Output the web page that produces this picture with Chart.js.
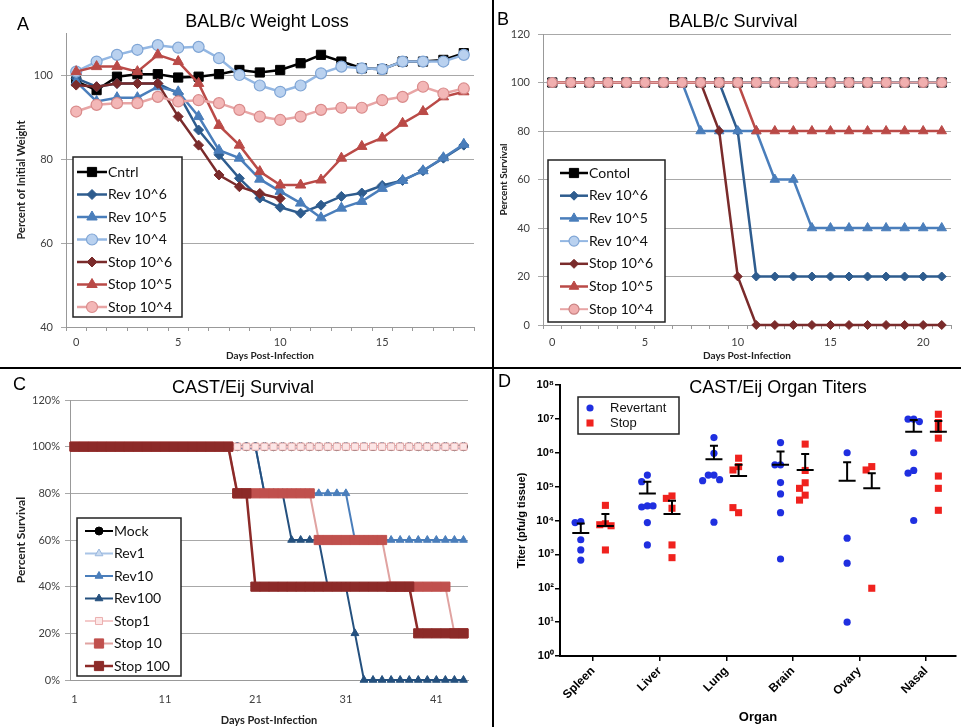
<!DOCTYPE html>
<html><head><meta charset="utf-8">
<script src="https://cdn.jsdelivr.net/npm/chart.js@4/dist/chart.umd.min.js"></script>
<style>
html,body{margin:0;padding:0;background:#fff;}
body{width:961px;height:727px;position:relative;overflow:hidden;}
canvas{position:absolute;}
.sep{position:absolute;background:#000;}
</style></head><body>
<canvas id="cA" width="492" height="367" style="left:0;top:0"></canvas>
<canvas id="cB" width="467" height="367" style="left:494px;top:0"></canvas>
<canvas id="cC" width="492" height="358" style="left:0;top:369px"></canvas>
<canvas id="cD" width="467" height="358" style="left:494px;top:369px"></canvas>
<div class="sep" style="left:492px;top:0;width:2px;height:727px"></div>
<div class="sep" style="left:0;top:367px;width:961px;height:2px"></div>
<script>
// ---------------- DATA ----------------
// Panel A: BALB/c weight loss (percent of initial weight), days 0..19
const daysA = [0,1,2,3,4,5,6,7,8,9,10,11,12,13,14,15,16,17,18,19];
const wtCntrl = [98.5,96.4,99.6,100.2,100.2,99.4,99.6,100.2,101.2,100.6,101.2,102.8,104.8,103.2,101.6,101.4,103.2,103.2,103.6,105.2];
const wtRev6  = [99.2,97.2,98,98,98,95.6,86.9,81,75.4,70.7,68.5,67.1,69,71.1,71.9,73.7,74.9,77.2,80.2,83.3];
const wtRev5  = [98.4,93.7,94.6,94.6,97.2,96,90.1,82.1,80.2,75.2,72.3,69.5,66,68.3,69.9,73,74.9,77.2,80.3,83.5];
const wtRev4  = [100.8,103.2,104.8,106,107.1,106.5,106.7,104,100,97.5,96,97.5,100.4,102,101.6,101.4,103.2,103.2,103.2,104.8];
const wtStop6 = [97.6,97.2,98,98,98,90.1,83.3,76.2,73.4,71.8,70.6];
const wtStop5 = [100.8,102,102,100.8,104.8,103.2,98,88,83.3,77,73.8,73.8,75,80.2,83,85,88.5,91.3,94.8,96];
const wtStop4 = [91.3,92.9,93.3,93.3,94.8,93.7,94,93.3,91.7,90.1,89.3,90.1,91.7,92.2,92.2,94,94.8,97.2,95.6,96.8];
const yTicksA = [40,60,80,100];

// Panel B: BALB/c survival (percent), days 0..21
const daysB = [0,1,2,3,4,5,6,7,8,9,10,11,12,13,14,15,16,17,18,19,20,21];
const svContol = [100,100,100,100,100,100,100,100,100,100,100,100,100,100,100,100,100,100,100,100,100,100];
const svRev6   = [100,100,100,100,100,100,100,100,100,100,80,20,20,20,20,20,20,20,20,20,20,20];
const svRev5   = [100,100,100,100,100,100,100,100,80,80,80,80,60,60,40,40,40,40,40,40,40,40];
const svRev4   = [100,100,100,100,100,100,100,100,100,100,100,100,100,100,100,100,100,100,100,100,100,100];
const svStop6  = [100,100,100,100,100,100,100,100,100,80,20,0,0,0,0,0,0,0,0,0,0,0];
const svStop5  = [100,100,100,100,100,100,100,100,100,100,100,80,80,80,80,80,80,80,80,80,80,80];
const svStop4  = [100,100,100,100,100,100,100,100,100,100,100,100,100,100,100,100,100,100,100,100,100,100];

// Panel C: CAST/Eij survival (fraction), days 1..44
const daysC = [1,2,3,4,5,6,7,8,9,10,11,12,13,14,15,16,17,18,19,20,21,22,23,24,25,26,27,28,29,30,31,32,33,34,35,36,37,38,39,40,41,42,43,44];
const scMock   = [1,1,1,1,1,1,1,1,1,1, 1,1,1,1,1,1,1,1,1,1, 1,1,1,1,1,1,1,1,1,1, 1,1,1,1,1,1,1,1,1,1, 1,1,1,1];
const scRev1   = [1,1,1,1,1,1,1,1,1,1, 1,1,1,1,1,1,1,1,1,1, 1,1,1,1,1,1,1,1,1,1, 1,1,1,1,1,1,1,1,1,1, 1,1,1,1];
const scRev10  = [1,1,1,1,1,1,1,1,1,1, 1,1,1,1,1,1,1,1,1,1, 1,0.8,0.8,0.8,0.8,0.8,0.8,0.8,0.8,0.8, 0.8,0.6,0.6,0.6,0.6,0.6,0.6,0.6,0.6,0.6, 0.6,0.6,0.6,0.6];
const scRev100 = [1,1,1,1,1,1,1,1,1,1, 1,1,1,1,1,1,1,1,1,1, 1,0.8,0.8,0.8,0.6,0.6,0.6,0.6,0.4,0.4, 0.4,0.2,0,0,0,0,0,0,0,0, 0,0,0,0];
const scStop1  = [1,1,1,1,1,1,1,1,1,1, 1,1,1,1,1,1,1,1,1,1, 1,1,1,1,1,1,1,1,1,1, 1,1,1,1,1,1,1,1,1,1, 1,1,1,1];
const scStop10 = [1,1,1,1,1,1,1,1,1,1, 1,1,1,1,1,1,1,1,0.8,0.8, 0.8,0.8,0.8,0.8,0.8,0.8,0.8,0.6,0.6,0.6, 0.6,0.6,0.6,0.6,0.6,0.4,0.4,0.4,0.4,0.4, 0.4,0.4,0.2,0.2];
const scStop100= [1,1,1,1,1,1,1,1,1,1, 1,1,1,1,1,1,1,1,0.8,0.8, 0.4,0.4,0.4,0.4,0.4,0.4,0.4,0.4,0.4,0.4, 0.4,0.4,0.4,0.4,0.4,0.4,0.4,0.4,0.2,0.2, 0.2,0.2,0.2,0.2];

// Panel D: CAST/Eij organ titers (pfu/g tissue)
const organs = ['Spleen','Liver','Lung','Brain','Ovary','Nasal'];
const revSpleen = [9300,8700,2700,1350,680];
const revLiver  = [220000,140000,27000,25000,27000,8700,1900];
const revLung   = [2800000,960000,220000,220000,160000,150000,8900];
const revBrain  = [2000000,440000,440000,132000,61000,17000,730];
const revOvary  = [1000000,3000,550,10];
const revNasal  = [9800000,9800000,8300000,1000000,300000,250000,10000];
const stopSpleen = [28000,8000,7500,7000,1350];
const stopLiver  = [53000,45000,23000,1900,800];
const stopLung   = [690000,390000,310000,17000,24000];
const stopBrain  = [1800000,300000,130000,89000,56000,40000];
const stopOvary  = [390000,310000,100];
const stopNasal  = [13700000,7800000,4900000,2700000,205000,89000,20000];
const revMean  = [4300,63000,640000,440000,148000,4200000];
const revErr   = [8200,140000,1600000,1080000,520000,9300000];
const stopMean = [6900,15500,205000,310000,89000,4200000];
const stopErr  = [15500,38000,440000,920000,250000,8700000];
const yTicksD = [1,10,100,1000,10000,100000,1000000,10000000,100000000];

// ---------------- HELPERS ----------------
const FUI = 'Lato, "Open Sans", sans-serif';
const FAR = '"Liberation Sans", Arial, sans-serif';
Chart.defaults.font.family = FUI;
Chart.defaults.color = '#404040';

function drawMarker(ctx, style, x, y, r, fill, edge, ew){
  ctx.save(); ctx.beginPath();
  if(style==='circle'){ ctx.arc(x,y,r,0,Math.PI*2); }
  else if(style==='rect'){ const s=r*Math.SQRT1_2; ctx.rect(x-s,y-s,2*s,2*s); }
  else if(style==='rectRot'){ ctx.moveTo(x,y-r); ctx.lineTo(x+r,y); ctx.lineTo(x,y+r); ctx.lineTo(x-r,y); ctx.closePath(); }
  else if(style==='triangle'){ let a=0; ctx.moveTo(x+Math.sin(a)*r,y-Math.cos(a)*r); a+=2*Math.PI/3; ctx.lineTo(x+Math.sin(a)*r,y-Math.cos(a)*r); a+=2*Math.PI/3; ctx.lineTo(x+Math.sin(a)*r,y-Math.cos(a)*r); ctx.closePath(); }
  ctx.fillStyle=fill; ctx.fill();
  if(ew>0){ ctx.lineWidth=ew; ctx.strokeStyle=edge; ctx.stroke(); }
  ctx.restore();
}
function textPlugin(items){
  return {id:'panelText', afterDraw(chart){
    const ctx=chart.ctx; ctx.save();
    items.forEach(it=>{ ctx.font=it.font; ctx.fillStyle=it.color||'#000'; ctx.textAlign=it.align||'left'; ctx.textBaseline='middle'; ctx.fillText(it.t,it.x,it.y); });
    ctx.restore();
  }};
}
function legendPlugin(cfg){
  return {id:'boxLegend', afterDraw(chart){
    const ctx=chart.ctx; const b=cfg.box;
    ctx.save();
    ctx.fillStyle='#fff'; ctx.fillRect(b[0],b[1],b[2]-b[0],b[3]-b[1]);
    ctx.lineWidth=cfg.boxLW; ctx.strokeStyle=cfg.boxColor; ctx.strokeRect(b[0],b[1],b[2]-b[0],b[3]-b[1]);
    chart.data.datasets.forEach((ds,i)=>{
      const y=cfg.firstY+i*cfg.step;
      if(cfg.lineX){ ctx.strokeStyle=ds.borderColor; ctx.lineWidth=ds.borderWidth; ctx.beginPath(); ctx.moveTo(cfg.lineX[0],y); ctx.lineTo(cfg.lineX[1],y); ctx.stroke(); }
      drawMarker(ctx, ds.pointStyle, cfg.markX, y, ds.pointRadius, ds.pointBackgroundColor, ds.pointBorderColor, ds.pointBorderWidth);
      ctx.fillStyle='#111'; ctx.font=cfg.font; ctx.textAlign='left'; ctx.textBaseline='middle'; ctx.fillText(ds.label,cfg.textX,y);
    });
    ctx.restore();
  }};
}
function lineDS(label, data, st, order){
  return {label, data, borderColor:st.line, borderWidth:st.lw, pointStyle:st.shape, pointRadius:st.r,
    pointBackgroundColor:st.fill, pointBorderColor:st.edge, pointBorderWidth:st.ew, tension:0, fill:false, clip:false, order};
}
const base = {responsive:false, animation:false, devicePixelRatio:1, events:[]};
const GRID = '#A8A8A8';

// ---------------- PANEL A ----------------
const stA = {
  cntrl:{line:'#000000',lw:2.5,shape:'rect',r:6.5,fill:'#000000',edge:'#000000',ew:1},
  rev6:{line:'#2E5C8E',lw:2.5,shape:'rectRot',r:5,fill:'#2E5C8E',edge:'#2E5C8E',ew:1},
  rev5:{line:'#4A7EBB',lw:2.5,shape:'triangle',r:6,fill:'#4A7EBB',edge:'#4A7EBB',ew:1},
  rev4:{line:'#93B7E3',lw:2.5,shape:'circle',r:5.5,fill:'#B9D1EF',edge:'#7FA5D5',ew:1.2},
  stop6:{line:'#7A2B2B',lw:2.5,shape:'rectRot',r:5,fill:'#7A2B2B',edge:'#7A2B2B',ew:1},
  stop5:{line:'#BA4A47',lw:2.5,shape:'triangle',r:6,fill:'#BA4A47',edge:'#BA4A47',ew:1},
  stop4:{line:'#E8A5A5',lw:2.5,shape:'circle',r:5.5,fill:'#F3B7B7',edge:'#D98B8B',ew:1.2}
};
new Chart(document.getElementById('cA'), {
  type:'line',
  data:{labels:daysA, datasets:[
    lineDS('Cntrl',wtCntrl,stA.cntrl,7), lineDS('Rev 10^6',wtRev6,stA.rev6,6), lineDS('Rev 10^5',wtRev5,stA.rev5,5),
    lineDS('Rev 10^4',wtRev4,stA.rev4,4), lineDS('Stop 10^6',wtStop6,stA.stop6,3), lineDS('Stop 10^5',wtStop5,stA.stop5,2),
    lineDS('Stop 10^4',wtStop4,stA.stop4,1)]},
  options:{...base,
    layout:{padding:{top:33,right:18,bottom:0,left:0}},
    plugins:{legend:{display:false},tooltip:{enabled:false}},
    scales:{
      x:{type:'category',offset:true,
        grid:{offset:true,drawOnChartArea:false,drawTicks:true,tickLength:4,color:'#999'},
        border:{color:'#999'},
        ticks:{autoSkip:false,maxRotation:0,padding:5,font:{size:11},callback:function(v,i){return i%5===0?this.getLabelForValue(v):'';}},
        title:{display:true,text:'Days Post-Infection',font:{size:10,weight:'bold'},color:'#222',padding:{top:0,bottom:5}},
        afterFit:s=>{s.height=40;}},
      y:{min:40,max:110,
        afterBuildTicks:s=>{s.ticks=yTicksA.map(v=>({value:v}));},
        grid:{color:GRID,tickLength:5},border:{color:'#999'},
        ticks:{padding:8,font:{size:11}},
        title:{display:true,text:'Percent of Initial Weight',font:{size:11,weight:'bold'},color:'#222',padding:{top:15,bottom:0}},
        afterFit:s=>{s.width=66;}}
    }},
  plugins:[legendPlugin({box:[73,157,182,317],firstY:172,step:22.5,lineX:[77,107],markX:92,textX:108,font:'14px '+FUI,boxLW:1.5,boxColor:'#222'}),
    textPlugin([{t:'A',x:17,y:25,font:'18px '+FAR},{t:'BALB/c Weight Loss',x:267,y:22,font:'18px '+FAR,align:'center'}])]
});

// ---------------- PANEL B ----------------
const stB = {
  contol:{line:'#000000',lw:2.5,shape:'rect',r:6.5,fill:'#000000',edge:'#000000',ew:1},
  rev6:{line:'#2E5C8E',lw:2.5,shape:'rectRot',r:4.5,fill:'#2E5C8E',edge:'#2E5C8E',ew:1},
  rev5:{line:'#4A7EBB',lw:2.5,shape:'triangle',r:5.5,fill:'#4A7EBB',edge:'#4A7EBB',ew:1},
  rev4:{line:'#93B7E3',lw:2,shape:'circle',r:5,fill:'#B9D1EF',edge:'#7FA5D5',ew:1.2},
  stop6:{line:'#7A2B2B',lw:2.5,shape:'rectRot',r:4.5,fill:'#7A2B2B',edge:'#7A2B2B',ew:1},
  stop5:{line:'#BA4A47',lw:2.5,shape:'triangle',r:5.5,fill:'#BA4A47',edge:'#BA4A47',ew:1},
  stop4:{line:'#E8A5A5',lw:2,shape:'circle',r:5,fill:'#F1AFAF',edge:'#C98282',ew:1.2}
};
new Chart(document.getElementById('cB'), {
  type:'line',
  data:{labels:daysB, datasets:[
    lineDS('Contol',svContol,stB.contol,7), lineDS('Rev 10^6',svRev6,stB.rev6,6), lineDS('Rev 10^5',svRev5,stB.rev5,5),
    lineDS('Rev 10^4',svRev4,stB.rev4,4), lineDS('Stop 10^6',svStop6,stB.stop6,3), lineDS('Stop 10^5',svStop5,stB.stop5,2),
    lineDS('Stop 10^4',svStop4,stB.stop4,1)]},
  options:{...base,
    layout:{padding:{top:34,right:10,bottom:0,left:0}},
    plugins:{legend:{display:false},tooltip:{enabled:false}},
    scales:{
      x:{type:'category',offset:true,
        grid:{offset:true,drawOnChartArea:false,drawTicks:true,tickLength:4,color:'#999'},
        border:{color:'#999'},
        ticks:{autoSkip:false,maxRotation:0,padding:7,font:{size:11},callback:function(v,i){return i%5===0?this.getLabelForValue(v):'';}},
        title:{display:true,text:'Days Post-Infection',font:{size:10,weight:'bold'},color:'#222',padding:{top:0,bottom:5}},
        afterFit:s=>{s.height=42;}},
      y:{min:0,max:120,ticks:{stepSize:20,padding:8,font:{size:11}},
        grid:{color:GRID,tickLength:5},border:{color:'#999'},
        title:{display:true,text:'Percent Survival',font:{size:10,weight:'bold'},color:'#222',padding:{top:4,bottom:0}},
        afterFit:s=>{s.width=49;}}
    }},
  plugins:[legendPlugin({box:[54,160,171,322],firstY:173,step:22.7,lineX:[66,94],markX:80,textX:95,font:'14px '+FUI,boxLW:1.5,boxColor:'#222'}),
    textPlugin([{t:'B',x:3,y:20,font:'18px '+FAR},{t:'BALB/c Survival',x:239,y:22,font:'18px '+FAR,align:'center'}])]
});

// ---------------- PANEL C ----------------
const stC = {
  mock:{line:'#000000',lw:2,shape:'circle',r:4,fill:'#000000',edge:'#000000',ew:1},
  rev1:{line:'#A9C4E6',lw:2,shape:'triangle',r:4.5,fill:'#C8DAF0',edge:'#9BB8DE',ew:1},
  rev10:{line:'#4A7EBB',lw:2,shape:'triangle',r:4.5,fill:'#4A7EBB',edge:'#4A7EBB',ew:1},
  rev100:{line:'#24507E',lw:2,shape:'triangle',r:4.5,fill:'#24507E',edge:'#24507E',ew:1},
  stop1:{line:'#F4CACA',lw:2,shape:'rect',r:5,fill:'#FCE6E6',edge:'#EBAEAE',ew:1},
  stop10:{line:'#E0A3A1',lw:2,shape:'rect',r:6.5,fill:'#C0504D',edge:'#C0504D',ew:1},
  stop100:{line:'#8C2A28',lw:2.5,shape:'rect',r:6.5,fill:'#8C2A28',edge:'#8C2A28',ew:1}
};
new Chart(document.getElementById('cC'), {
  type:'line',
  data:{labels:daysC, datasets:[
    lineDS('Mock',scMock,stC.mock,7), lineDS('Rev1',scRev1,stC.rev1,6), lineDS('Rev10',scRev10,stC.rev10,5),
    lineDS('Rev100',scRev100,stC.rev100,4), lineDS('Stop1',scStop1,stC.stop1,3), lineDS('Stop 10',scStop10,stC.stop10,2),
    lineDS('Stop 100',scStop100,stC.stop100,1)]},
  options:{...base,
    layout:{padding:{top:31,right:24,bottom:0,left:0}},
    plugins:{legend:{display:false},tooltip:{enabled:false}},
    scales:{
      x:{type:'category',offset:true,
        grid:{offset:true,drawOnChartArea:false,drawTicks:false,color:'#999'},
        border:{color:'#999'},
        ticks:{autoSkip:false,maxRotation:0,padding:13,font:{size:11},callback:function(v,i){return i%10===0?this.getLabelForValue(v):'';}},
        title:{display:true,text:'Days Post-Infection',font:{size:11,weight:'bold'},color:'#222',padding:{top:0,bottom:0}},
        afterFit:s=>{s.height=47;}},
      y:{min:0,max:1.2,ticks:{stepSize:0.2,padding:5,font:{size:11},callback:v=>Math.round(v*100)+'%'},
        grid:{color:GRID,tickLength:5},border:{color:'#999'},
        title:{display:true,text:'Percent Survival',font:{size:12,weight:'bold'},color:'#222',padding:{top:14,bottom:0}},
        afterFit:s=>{s.width=70;}}
    }},
  plugins:[legendPlugin({box:[77,149,181,307],firstY:162,step:22.5,lineX:[85,113],markX:99,textX:114,font:'14px '+FUI,boxLW:1.5,boxColor:'#222'}),
    textPlugin([{t:'C',x:13,y:16,font:'18px '+FAR},{t:'CAST/Eij Survival',x:243,y:19,font:'18px '+FAR,align:'center'}])]
});

// ---------------- PANEL D ----------------
const revGroups = [revSpleen,revLiver,revLung,revBrain,revOvary,revNasal];
const stopGroups = [stopSpleen,stopLiver,stopLung,stopBrain,stopOvary,stopNasal];
const REV_OFF = -0.185, STOP_OFF = 0.185;
function swarm(groups, off){
  const pts=[];
  groups.forEach((vals,gi)=>{
    const placed=[];
    vals.forEach(v=>{
      const lv=Math.log10(v);
      const k=placed.filter(p=>Math.abs(p-lv)<0.2).length;
      placed.push(lv);
      const d = k===0?0:(k%2?-1:1)*Math.ceil(k/2)*0.085;
      pts.push({x:gi+1+off+d, y:v});
    });
  });
  return pts;
}
const sup = ['\u2070','\u00B9','\u00B2','\u00B3','\u2074','\u2075','\u2076','\u2077','\u2078'];
const meanPlugin = {id:'meanBars', afterDatasetsDraw(chart){
  const ctx=chart.ctx, x=chart.scales.x, y=chart.scales.y;
  ctx.save(); ctx.strokeStyle='#000'; ctx.lineWidth=2;
  [[revMean,revErr,REV_OFF],[stopMean,stopErr,STOP_OFF]].forEach(g=>{
    g[0].forEach((m,i)=>{
      const px=x.getPixelForValue(i+1+g[2]), pm=y.getPixelForValue(m), pe=y.getPixelForValue(g[1][i]);
      ctx.beginPath();
      ctx.moveTo(px-8.5,pm); ctx.lineTo(px+8.5,pm);
      ctx.moveTo(px,pm); ctx.lineTo(px,pe);
      ctx.moveTo(px-4,pe); ctx.lineTo(px+4,pe);
      ctx.stroke();
    });
  });
  ctx.restore();
}};
new Chart(document.getElementById('cD'), {
  type:'scatter',
  data:{datasets:[
    {label:'Revertant',data:swarm(revGroups,REV_OFF),pointStyle:'circle',pointRadius:3.6,pointBackgroundColor:'#1F2FE0',pointBorderColor:'#1F2FE0',pointBorderWidth:0,showLine:false,clip:false},
    {label:'Stop',data:swarm(stopGroups,STOP_OFF),pointStyle:'rect',pointRadius:5,pointBackgroundColor:'#F0221E',pointBorderColor:'#F0221E',pointBorderWidth:0,showLine:false,clip:false}
  ]},
  options:{...base,
    layout:{padding:{top:16,right:0,bottom:0,left:0}},
    plugins:{legend:{display:false},tooltip:{enabled:false}},
    scales:{
      x:{type:'linear',min:0.503,max:6.45,
        afterBuildTicks:s=>{s.ticks=[1,2,3,4,5,6].map(v=>({value:v}));},
        grid:{drawOnChartArea:false,drawTicks:true,tickLength:5,color:'#000',lineWidth:1.5},
        border:{color:'#000',width:2},
        ticks:{autoSkip:false,minRotation:45,maxRotation:45,padding:3,color:'#000',font:{family:FAR,size:12,weight:'bold'},callback:v=>organs[v-1]},
        title:{display:true,text:'Organ',color:'#000',font:{family:FAR,size:13,weight:'bold'},padding:{top:0,bottom:2}},
        afterFit:s=>{s.height=71;}},
      y:{type:'logarithmic',min:1,max:100000000,
        afterBuildTicks:s=>{s.ticks=yTicksD.map(v=>({value:v}));},
        grid:{drawOnChartArea:false,drawTicks:true,tickLength:5,color:'#000',lineWidth:1.5},
        border:{color:'#000',width:2},
        ticks:{padding:1,color:'#000',font:{family:FAR,size:11,weight:'bold'},callback:v=>'10'+sup[Math.round(Math.log10(v))]},
        title:{display:true,text:'Titer (pfu/g tissue)',color:'#000',font:{family:FAR,size:11,weight:'bold'},padding:{top:21,bottom:0}},
        afterFit:s=>{s.width=66;}}
    }},
  plugins:[meanPlugin,
    legendPlugin({box:[84,28,185,65],firstY:39,step:15,lineX:null,markX:96,textX:116,font:'13px '+FAR,boxLW:1.5,boxColor:'#222'}),
    textPlugin([{t:'D',x:4,y:13,font:'18px '+FAR},{t:'CAST/Eij Organ Titers',x:284,y:19,font:'18px '+FAR,align:'center'}])]
});
</script>
</body></html>
